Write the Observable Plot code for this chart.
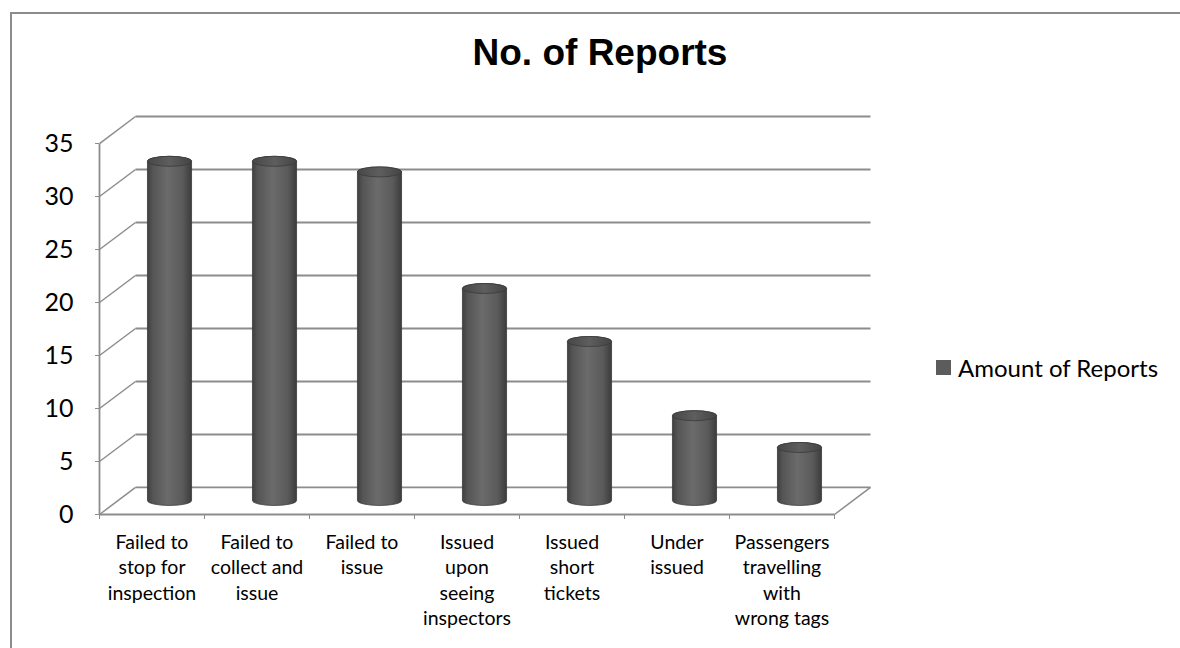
<!DOCTYPE html>
<html>
<head>
<meta charset="utf-8">
<script src="https://cdn.jsdelivr.net/npm/d3@7"></script>
<script src="https://cdn.jsdelivr.net/npm/@observablehq/plot@0.6"></script>
<style>
  html, body { margin: 0; padding: 0; background: #fff; }
  #wrap { position: relative; width: 1180px; height: 648px; overflow: hidden; background: #fff; }
  #frame { position: absolute; left: 10px; top: 12px; width: 1170px; height: 636px;
           border-left: 2px solid #8c8c8c; border-top: 2px solid #8c8c8c; box-sizing: border-box; }
  #title { position: absolute; left: 0; width: 1200px; top: 32px; text-align: center;
           font: bold 37px "Liberation Sans", Arial, sans-serif; line-height: 42px; color: #000; }
  #legend { position: absolute; left: 936px; top: 353px; display: flex; align-items: center;
            font: 24px Lato, "Open Sans", sans-serif; color: #000; }
  #legend .sw { width: 15px; height: 15px; background: #5c5c5c; margin-right: 7px; }
  #chart { position: absolute; left: 0; top: 0; }
</style>
</head>
<body>
<div id="wrap">
  <div id="frame"></div>
  <div id="title"></div>
  <div id="chart"></div>
  <div id="legend"><div class="sw"></div><span id="legtext"></span></div>
</div>
<script>
// ---- data ----
const title = "No. of Reports";
const seriesName = "Amount of Reports";
const categories = [
  "Failed to stop for inspection",
  "Failed to collect and issue",
  "Failed to issue",
  "Issued upon seeing inspectors",
  "Issued short tickets",
  "Under issued",
  "Passengers travelling with wrong tags"
];
const categoryLabels = [
  "Failed to\nstop for\ninspection",
  "Failed to\ncollect and\nissue",
  "Failed to\nissue",
  "Issued\nupon\nseeing\ninspectors",
  "Issued\nshort\ntickets",
  "Under\nissued",
  "Passengers\ntravelling\nwith\nwrong tags"
];
const values = [32, 32, 31, 20, 15, 8, 5];
const yTicks = [0, 5, 10, 15, 20, 25, 30, 35];

// ---- 3D oblique depth (in data units) ----
const DX = 0.343;   // depth shift along x (category units)
const DY = 2.55;    // depth shift along y (value units)
const CW = 0.42;    // cylinder width (category units)
const n = categories.length;

const bars = categories.map((c, i) => ({ i, c, v: values[i], label: categoryLabels[i] }));
const gridColor = "#8c8c8c";

document.getElementById("title").textContent = title;
document.getElementById("legtext").textContent = seriesName;

const chart = Plot.plot({
  width: 1180,
  height: 648,
  marginLeft: 99,
  marginRight: 310,
  marginTop: 116,
  marginBottom: 134,
  style: { fontFamily: "Lato, 'Open Sans', sans-serif", background: "transparent", overflow: "visible" },
  x: { type: "linear", domain: [0, n + DX], axis: null },
  y: { type: "linear", domain: [0, 35 + DY], axis: null },
  marks: [
    // back wall gridlines
    Plot.link(yTicks, { x1: DX, x2: n + DX, y1: d => d + DY, y2: d => d + DY, stroke: gridColor, strokeWidth: 1.8 }),
    // side wall diagonals
    Plot.link(yTicks, { x1: 0, x2: DX, y1: d => d, y2: d => d + DY, stroke: gridColor, strokeWidth: 1.5 }),
    // floor front edge and right diagonal
    Plot.link([0], { x1: 0, x2: n, y1: 0, y2: 0, stroke: gridColor, strokeWidth: 1.8 }),
    Plot.link([0], { x1: n, x2: n + DX, y1: 0, y2: DY, stroke: gridColor, strokeWidth: 1.5 }),
    // front value axis line
    Plot.link([0], { x1: 0, x2: 0, y1: 0, y2: 35, stroke: gridColor, strokeWidth: 1.8 }),
    // y axis ticks & labels
    Plot.axisY({ ticks: yTicks, tickSize: 4, tickPadding: 22, fontSize: 25, stroke: gridColor, fill: "#000", tickFormat: d => String(d) }),
    // x axis category ticks
    Plot.axisX({ ticks: d3.range(0, n + 1), tickSize: 5, tickFormat: () => "", stroke: gridColor }),
    // category labels
    Plot.text(bars, { x: d => d.i + 0.5, y: 0, text: "label", lineAnchor: "top", dy: 16, fontSize: 19.5, lineHeight: 1.31, fill: "#000" }),
    // cylinder bodies
    Plot.rect(bars, {
      x1: d => d.i + 0.5 + DX / 2 - CW / 2,
      x2: d => d.i + 0.5 + DX / 2 + CW / 2,
      y1: DY / 2, y2: d => d.v + DY / 2,
      insetTop: -5, insetBottom: -5,
      rx: 22, ry: 5,
      fill: "url(#cylGrad)", stroke: "#3a3a3a", strokeWidth: 0.8
    }),
    // cylinder tops
    Plot.rect(bars, {
      x1: d => d.i + 0.5 + DX / 2 - CW / 2,
      x2: d => d.i + 0.5 + DX / 2 + CW / 2,
      y1: d => d.v + DY / 2, y2: d => d.v + DY / 2,
      insetTop: -5, insetBottom: -5,
      rx: 22, ry: 5,
      fill: "url(#capGrad)", stroke: "#3a3a3a", strokeWidth: 0.8
    })
  ]
});

// gradients for the cylinder shading
const ns = "http://www.w3.org/2000/svg";
const defs = document.createElementNS(ns, "defs");
function grad(id, stops) {
  const g = document.createElementNS(ns, "linearGradient");
  g.setAttribute("id", id);
  g.setAttribute("x1", "0"); g.setAttribute("x2", "1");
  g.setAttribute("y1", "0"); g.setAttribute("y2", "0");
  for (const [o, c] of stops) {
    const s = document.createElementNS(ns, "stop");
    s.setAttribute("offset", o); s.setAttribute("stop-color", c);
    g.appendChild(s);
  }
  defs.appendChild(g);
}
grad("cylGrad", [["0%", "#404040"], ["12%", "#555555"], ["45%", "#6b6b6b"], ["80%", "#5a5a5a"], ["100%", "#3c3c3c"]]);
grad("capGrad", [["0%", "#474747"], ["50%", "#5e5e5e"], ["100%", "#444444"]]);
chart.insertBefore(defs, chart.firstChild);

document.getElementById("chart").appendChild(chart);
</script>
</body>
</html>
